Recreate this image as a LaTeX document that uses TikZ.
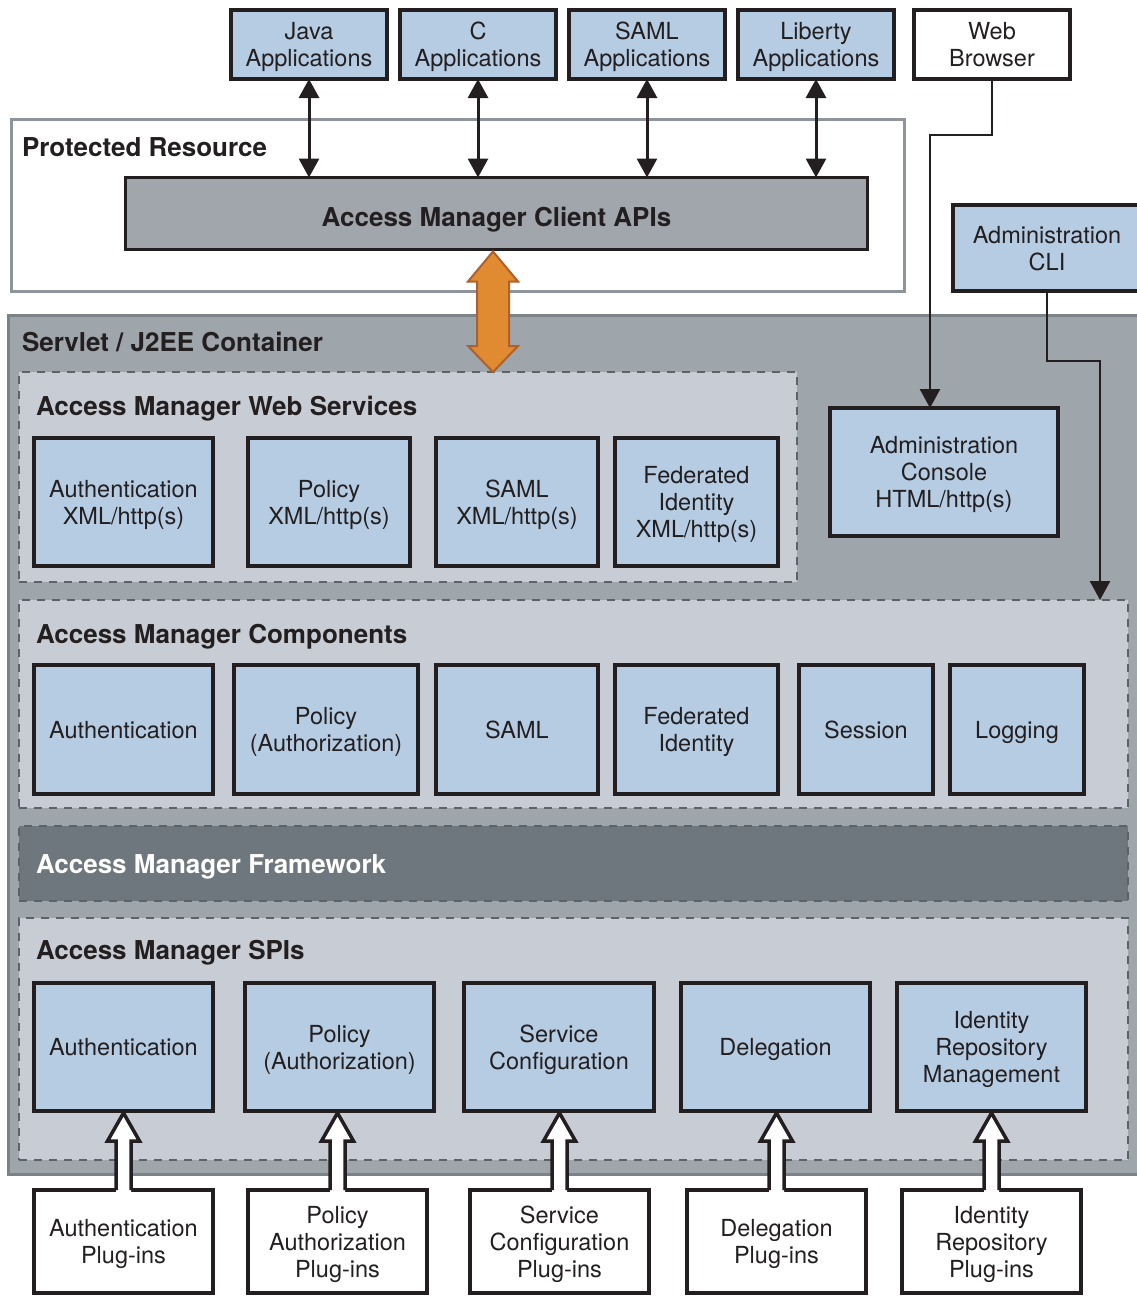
\documentclass[tikz,border=0pt]{standalone}
\usepackage{fontspec}
\setmainfont{TeX Gyre Heros}
\usetikzlibrary{arrows.meta,calc}
\definecolor{ink}{HTML}{231F20}
\definecolor{boxblue}{HTML}{B6CCE3}
\definecolor{contfill}{HTML}{9EA5AB}
\definecolor{contedge}{HTML}{7B8288}
\definecolor{protedge}{HTML}{8E9499}
\definecolor{regfill}{HTML}{C8CCD4}
\definecolor{dashc}{HTML}{5C6368}
\definecolor{fwfill}{HTML}{6F777E}
\definecolor{apigray}{HTML}{A0A6AC}
\definecolor{orfill}{HTML}{E08A32}
\definecolor{oredge}{HTML}{B0602A}
\newcommand\hollowarrow[2]{%
  \path (#1.north |- #2.south) coordinate (htip) (#1.north) coordinate (hbot);
  \path ($(htip)+(0,2)$) coordinate (htip);
  \fill[white] (htip) -- ($(htip)+(16,28)$) -- ($(htip)+(7.5,28)$) -- ($(hbot)+(7.5,3)$)
     -- ($(hbot)+(-7.5,3)$) -- ($(htip)+(-7.5,28)$) -- ($(htip)+(-16,28)$) -- cycle;
  \draw[ink, line width=3.5pt, line join=miter] ($(hbot)+(-7.5,0)$) -- ($(htip)+(-7.5,28)$)
     -- ($(htip)+(-16,28)$) -- (htip) -- ($(htip)+(16,28)$) -- ($(htip)+(7.5,28)$) -- ($(hbot)+(7.5,0)$);
}
\begin{document}
\begin{tikzpicture}[x=1pt,y=-1pt,
  every node/.style={inner sep=0pt, outer sep=0pt},
  txt/.style={font=\fontsize{23.5}{27}\selectfont, align=center, text=ink, text depth=0pt},
  hdr/.style={font=\fontsize{26}{30}\selectfont\bfseries, text=ink, anchor=west, text depth=0pt},
  bbox/.style={txt, draw=ink, line width=4pt, fill=boxblue},
  wbox/.style={txt, draw=ink, line width=4pt, fill=white},
  region/.style={draw=dashc, line width=2.5pt, dash pattern=on 8pt off 7pt, fill=regfill},
  sz/.style 2 args={minimum width=#1pt, minimum height=#2pt},
  dbl/.style={{Triangle[width=20pt,length=19pt]}-{Triangle[width=20pt,length=19pt]}, line width=3pt, draw=ink},
  conn/.style={-{Triangle[width=20pt,length=19pt]}, line width=2.5pt, draw=ink}
]
\useasboundingbox (0,0) rectangle (1137,1296);
\fill[white] (0,0) rectangle (1137,1296);
\begin{scope}
\clip (0,0) rectangle (1137,1296);

% Protected resource
\node[draw=protedge, line width=3pt, fill=white, sz={893}{172}] (prot) at (458,205.5) {};
\node[hdr] (protl) at (22,147) {Protected Resource};
\node[draw=ink, line width=3pt, fill=apigray, sz={742}{72}, text height=26pt, text depth=0pt,
      font=\fontsize{26}{30}\selectfont\bfseries, text=ink] (api) at (496.5,213.5) {Access Manager Client APIs};

% top applications
\node[bbox, sz={156}{69}] (japp) at (309,44.5) {Java\\Applications};
\node[bbox, sz={156}{69}] (capp) at (478,44.5) {C\\Applications};
\node[bbox, sz={156}{69}] (sapp) at (647,44.5) {SAML\\Applications};
\node[bbox, sz={156}{69}] (lapp) at (816,44.5) {Liberty\\Applications};
\node[wbox, sz={156}{69}, line width=3.5pt] (wb) at (992,44.5) {Web\\Browser};

% container
\node[draw=contedge, line width=3pt, fill=contfill, sz={1130.5}{859}] (cont) at (573.75,745) {};
\node[hdr] (contl) at (22,342) {Servlet / J2EE Container};

\node[bbox, sz={188}{86}] (cli) at (1047,248) {Administration\\CLI};

% web services
\node[region, sz={778}{210}] (ws) at (408,477) {};
\node[hdr] (wsl) at (36,406) {Access Manager Web Services};
\node[bbox, sz={179}{128}] (wsa) at (123.5,502) {Authentication\\XML/http(s)};
\node[bbox, sz={162}{128}] (wsp) at (329,502) {Policy\\XML/http(s)};
\node[bbox, sz={162}{128}] (wss) at (517,502) {SAML\\XML/http(s)};
\node[bbox, sz={163}{128}] (wsf) at (696.5,502) {Federated\\Identity\\XML/http(s)};

\node[bbox, sz={228}{128}] (ac) at (944,472) {Administration\\Console\\HTML/http(s)};

% components
\node[region, sz={1109}{208}] (comp) at (573.5,704) {};
\node[hdr] (compl) at (36,634) {Access Manager Components};
\node[bbox, sz={179}{129}] (cmpa) at (123.5,729.5) {Authentication};
\node[bbox, sz={184}{129}] (cmpp) at (326,729.5) {Policy\\(Authorization)};
\node[bbox, sz={162}{129}] (cmps) at (517,729.5) {SAML};
\node[bbox, sz={163}{129}] (cmpf) at (696.5,729.5) {Federated\\Identity};
\node[bbox, sz={134}{129}] (cmpse) at (866,729.5) {Session};
\node[bbox, sz={134}{129}] (cmpl) at (1017,729.5) {Logging};

% framework
\node[region, fill=fwfill, sz={1109}{75}] (fw) at (573.5,863.5) {};
\node[hdr, text=white] (fwl) at (36,864) {Access Manager Framework};

% SPIs
\node[region, sz={1109}{242}] (spi) at (573.5,1039) {};
\node[hdr] (spil) at (36,950) {Access Manager SPIs};
\node[bbox, sz={179}{128}] (spia) at (123.5,1047) {Authentication};
\node[bbox, sz={189}{128}] (spip) at (339.5,1047) {Policy\\(Authorization)};
\node[bbox, sz={190}{128}] (spis) at (559,1047) {Service\\Configuration};
\node[bbox, sz={189}{128}] (spid) at (775.5,1047) {Delegation};
\node[bbox, sz={189}{128}] (spii) at (991.5,1047) {Identity\\Repository\\Management};

% plug-ins
\node[wbox, sz={179}{103}] (pa) at (123.5,1241.5) {Authentication\\Plug-ins};
\node[wbox, sz={179}{103}] (pp) at (337.5,1241.5) {Policy\\Authorization\\Plug-ins};
\node[wbox, sz={179}{103}] (ps) at (559.5,1241.5) {Service\\Configuration\\Plug-ins};
\node[wbox, sz={179}{103}] (pd) at (776.5,1241.5) {Delegation\\Plug-ins};
\node[wbox, sz={179}{103}] (pi) at (991.5,1241.5) {Identity\\Repository\\Plug-ins};

% connectors: apps <-> client APIs
\draw[dbl] (japp.south) -- (japp.south |- api.north);
\draw[dbl] (capp.south) -- (capp.south |- api.north);
\draw[dbl] (sapp.south) -- (sapp.south |- api.north);
\draw[dbl] (lapp.south) -- (lapp.south |- api.north);

% orange double arrow
\path ($(api.south)+(-3.5,2)$) coordinate (ot);
\path (ot |- ws.north) coordinate (ob);
\draw[fill=orfill, draw=oredge, line width=2pt, line join=miter]
  (ot) -- ($(ot)+(25,30)$) -- ($(ot)+(16,30)$) -- ($(ob)+(16,-26)$) -- ($(ob)+(25,-26)$)
  -- (ob) -- ($(ob)+(-25,-26)$) -- ($(ob)+(-16,-26)$) -- ($(ot)+(-16,30)$) -- ($(ot)+(-25,30)$) -- cycle;

% browser -> console, CLI -> components
\draw[conn] (wb.south) -- ++(0,56) -| ($(ac.north)+(-14,0)$);
\draw[conn] (cli.south) -- ++(0,70) -| ($(comp.north east)+(-28,0)$);

% plug-in hollow arrows
\hollowarrow{pa}{spia}
\hollowarrow{pp}{spip}
\hollowarrow{ps}{spis}
\hollowarrow{pd}{spid}
\hollowarrow{pi}{spii}
\end{scope}
\end{tikzpicture}
\end{document}
